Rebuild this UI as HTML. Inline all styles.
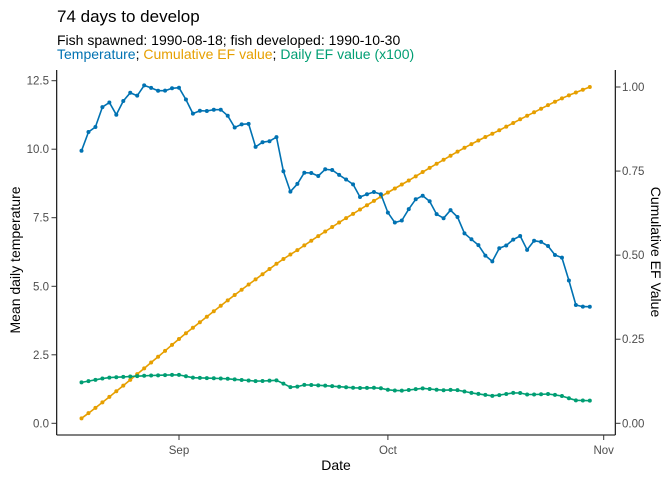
<!DOCTYPE html>
<html><head><meta charset="utf-8"><style>
html,body{margin:0;padding:0;background:#fff;}
svg{display:block;font-family:"Liberation Sans",Arial,sans-serif;}
</style></head><body>
<svg id="s" width="672" height="480" viewBox="0 0 672 480" xmlns="http://www.w3.org/2000/svg">
<rect width="672" height="480" fill="#fff"/>
<text x="57" y="22" font-size="17" fill="#000">74 days to develop</text>
<text x="57" y="45" font-size="14" fill="#000">Fish spawned: 1990-08-18; fish developed: 1990-10-30</text>
<text x="57" y="59" font-size="14"><tspan fill="#0072B2">Temperature</tspan><tspan fill="#000">; </tspan><tspan fill="#E69F00">Cumulative EF value</tspan><tspan fill="#000">; </tspan><tspan fill="#009E73">Daily EF value (x100)</tspan></text>
<g stroke="#000" stroke-width="1.1" fill="none">
<line x1="56.7" y1="70" x2="56.7" y2="435"/>
<line x1="56.7" y1="435" x2="615.3" y2="435"/>
<line x1="615.3" y1="70" x2="615.3" y2="435"/>
</g>
<g id="ticks" stroke="#333" stroke-width="1"></g>
<g id="labs" font-size="11.5" fill="#4d4d4d"></g>
<text transform="translate(20,260) rotate(-90)" text-anchor="middle" font-size="14" fill="#000">Mean daily temperature</text>
<text transform="translate(651,252) rotate(90)" text-anchor="middle" font-size="14" fill="#000">Cumulative EF Value</text>
<text x="336" y="470" text-anchor="middle" font-size="14" fill="#000">Date</text>
<g id="series"></g>
</svg>
<script>
var NS="http://www.w3.org/2000/svg";
function el(t,a,p){var e=document.createElementNS(NS,t);for(var k in a)e.setAttribute(k,a[k]);(p||document.getElementById('s')).appendChild(e);return e;}
var ticks=document.getElementById('ticks'),labs=document.getElementById('labs'),ser=document.getElementById('series');
var yl=[["12.5",80.7],["10.0",149.2],["7.5",217.7],["5.0",286.3],["2.5",354.8],["0.0",423.3]];
yl.forEach(function(t){el('line',{x1:51.5,y1:t[1],x2:56.7,y2:t[1]},ticks);var e=el('text',{x:49,y:t[1]+4,'text-anchor':'end'},labs);e.textContent=t[0];});
[["1.00",0],["0.75",.25],["0.50",.5],["0.25",.75],["0.00",1]].forEach(function(t){var y=87+t[1]*336.3;el('line',{x1:615.3,y1:y,x2:620.5,y2:y},ticks);var e=el('text',{x:622,y:y+4},labs);e.textContent=t[0];});
[["Sep",179],["Oct",387.9],["Nov",603.7]].forEach(function(t){el('line',{x1:t[1],y1:435,x2:t[1],y2:440},ticks);var e=el('text',{x:t[1],y:454,'text-anchor':'middle'},labs);e.textContent=t[0];});
var x0=81.5,dx=6.963,N=74;
function interp(pts,x){if(x<=pts[0][0])return pts[0][1];for(var i=1;i<pts.length;i++){if(x<=pts[i][0]){var a=pts[i-1],b=pts[i];return a[1]+(b[1]-a[1])*(x-a[0])/(b[0]-a[0]);}}return pts[pts.length-1][1];}
var blue=[[80.7,153.3],[87.3,132.7],[95,128.3],[101.7,107.7],[109,101.7],[115.7,116],[122.7,101.7],[130,92.7],[137.3,95.7],[144,85.3],[150.7,87.7],[157.3,90.7],[165,90.7],[171.7,88.3],[179,87.7],[185.7,99],[192.7,113.7],[199.3,110.7],[206.7,111],[214,109.7],[221,109.7],[227.7,115.7],[235,128],[241.7,124.3],[248.3,122.7],[255,147.3],[261.7,142.3],[269,141.7],[276,134.7],[282.7,169],[290,192],[296.7,185],[304,172.7],[310.7,172.7],[318.3,176],[325,169.3],[331.7,169.7],[338.3,174.3],[345.7,179.3],[352.7,183.7],[360,197],[366.7,194.3],[374,192],[380.7,193.7],[387.7,212.3],[394.3,222.7],[401.7,220.7],[409,208.7],[415.7,199.3],[422.7,195.7],[429,200],[436,213.7],[443,219],[450,209.7],[457,215.7],[463.7,232.7],[470.7,238.7],[477.7,244],[485,255.3],[492,262],[499,248.3],[506,245.7],[513,239.7],[520,235.7],[527,250],[534,240.7],[540.7,241.7],[548,246],[555,255],[562.3,257.7],[568.3,278.3],[575.7,305],[583.3,306.7],[590,306.7]];
var green=[[80,382.7],[107,377.7],[146,375.7],[178,374.7],[193,377.7],[227,378.7],[257.5,381.3],[277,380.3],[292,388],[305,384.7],[326,385.7],[356,388],[378,387.7],[390.5,390.3],[403,390.7],[423,388.3],[442,390.3],[455,389.7],[472,393],[493.5,396],[517,392.3],[528,394.7],[549,394],[562,396],[575,400.3],[591,400.7]];
var xs=[],gb=[],gg=[];
for(var i=0;i<N;i++){var x=x0+i*dx;xs.push(x);gb.push(interp(blue,x));gg.push(interp(green,x));}
var gv=gg.map(function(y){return (423.3-y)/27.406;});
var cum=[],s=0;gv.forEach(function(v){s+=v;cum.push(s);});
var go=cum.map(function(c){return 423.3-(c/s)*336.3;});
function draw(ys,col){var d=xs.map(function(x,i){return (i?'L':'M')+x.toFixed(1)+' '+ys[i].toFixed(1);}).join('');
el('path',{d:d,stroke:col,'stroke-width':1.6,fill:'none','stroke-linejoin':'round'},ser);
xs.forEach(function(x,i){el('circle',{cx:x,cy:ys[i],r:2,fill:col},ser);});}
draw(go,'#E69F00');draw(gg,'#009E73');draw(gb,'#0072B2');
</script>
</body></html>
